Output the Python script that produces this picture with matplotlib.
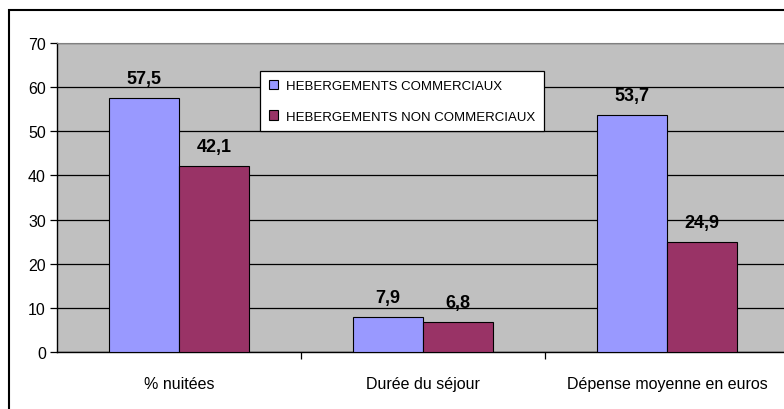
import matplotlib.pyplot as plt
import numpy as np
from matplotlib.patches import Rectangle

categories = ['% nuitées', 'Durée du séjour', 'Dépense moyenne en euros']
commerciaux = [57.5, 7.9, 53.7]
non_commerciaux = [42.1, 6.8, 24.9]
labels_com = ['57,5', '7,9', '53,7']
labels_non = ['42,1', '6,8', '24,9']

plt.rcParams['font.family'] = ['Liberation Sans', 'DejaVu Sans']

W, H = 784, 410
fig = plt.figure(figsize=(W / 100, H / 100), dpi=100)

# outer chart border (runs off the right and bottom edge)
fig.patches.append(Rectangle((9 / W, -0.05), 1.1, (H - 11) / H + 0.05,
                             transform=fig.transFigure, fill=False,
                             edgecolor='black', linewidth=1.5))

# plot area: x 57..789 px, y 44..353 px
ax = fig.add_axes([57 / W, (H - 353) / H, (789 - 57) / W, (353 - 44) / H])
ax.set_facecolor('#C0C0C0')

x = np.arange(len(categories))
bw = 0.287
b1 = ax.bar(x - bw / 2, commerciaux, bw, color='#9999FF', edgecolor='black',
            linewidth=0.8, label='HEBERGEMENTS COMMERCIAUX', zorder=3)
b2 = ax.bar(x + bw / 2, non_commerciaux, bw, color='#993366', edgecolor='black',
            linewidth=0.8, label='HEBERGEMENTS NON COMMERCIAUX', zorder=3)

for bars, labs in ((b1, labels_com), (b2, labels_non)):
    for rect, lab in zip(bars, labs):
        ax.annotate(lab, (rect.get_x() + rect.get_width() / 2, rect.get_height()),
                    xytext=(0, 11), textcoords='offset points', ha='center',
                    va='baseline', fontsize=13, fontweight='bold')

ax.set_xlim(-0.5, 2.5)
ax.set_ylim(0, 70)
ax.set_yticks(range(0, 71, 10))
ax.yaxis.grid(True, color='black', linewidth=0.9, zorder=0)
ax.tick_params(axis='y', length=5, width=0.9, labelsize=11.5, pad=3)

ax.set_xticks([0.5, 1.5, 2.5])
ax.set_xticklabels([])
ax.set_xticks(x, minor=True)
ax.set_xticklabels(categories, minor=True)
ax.tick_params(axis='x', which='major', length=5, width=0.9)
ax.tick_params(axis='x', which='minor', length=0, labelsize=11.5, pad=17)

for side in ('left', 'bottom'):
    ax.spines[side].set_color('black')
    ax.spines[side].set_linewidth(1)
ax.spines['top'].set_color('#808080')
ax.spines['right'].set_visible(False)

leg = ax.legend(loc='upper left', bbox_to_anchor=((260 - 57) / (789 - 57), 1 - (72 - 44) / 309),
                frameon=True, fancybox=False, edgecolor='black', framealpha=1,
                fontsize=9.5, handlelength=0.7, handleheight=0.7, labelspacing=1.4,
                handletextpad=0.6, borderpad=0.65, borderaxespad=0)
leg.get_frame().set_linewidth(0.9)

fig.savefig('out.png', dpi=100)
